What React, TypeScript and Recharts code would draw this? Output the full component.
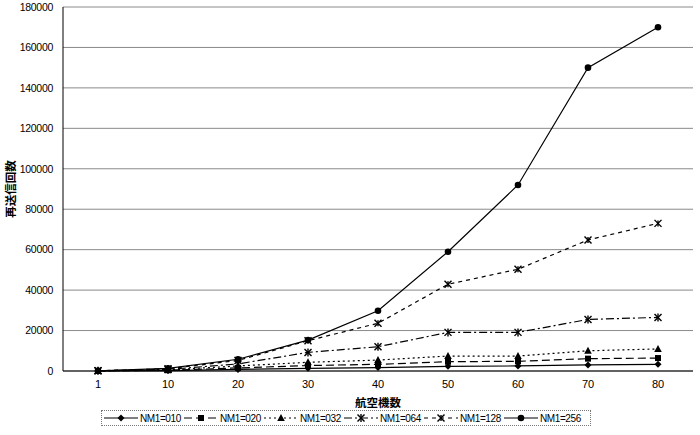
import React from "react";
import { LineChart, Line, XAxis, YAxis, CartesianGrid, Legend } from "recharts";

const categories = ["1", "10", "20", "30", "40", "50", "60", "70", "80"];
const nm010 = [20, 200, 800, 1300, 1700, 2300, 2500, 3000, 3300];
const nm020 = [50, 400, 1500, 2700, 3300, 4600, 4800, 6100, 6400];
const nm032 = [80, 500, 2500, 4300, 5400, 7400, 7400, 10000, 10900];
const nm064 = [100, 800, 3500, 9200, 12000, 19100, 19100, 25500, 26500];
const nm128 = [100, 1100, 5200, 15000, 23600, 42900, 50300, 64800, 73000];
const nm256 = [100, 1300, 5800, 15300, 29800, 59000, 92000, 150000, 170000];
const yTicks = [0, 20000, 40000, 60000, 80000, 100000, 120000, 140000, 160000, 180000];

const data = categories.map((c, i) => ({
  cat: c,
  nm010: nm010[i],
  nm020: nm020[i],
  nm032: nm032[i],
  nm064: nm064[i],
  nm128: nm128[i],
  nm256: nm256[i],
}));

type Shape = "diamond" | "square" | "triangle" | "asterisk" | "x" | "circle";

function Marker({ cx, cy, shape }: { cx: number; cy: number; shape: Shape }) {
  const c = "#000";
  switch (shape) {
    case "diamond":
      return <polygon points={`${cx},${cy - 3.5} ${cx + 3.5},${cy} ${cx},${cy + 3.5} ${cx - 3.5},${cy}`} fill={c} />;
    case "square":
      return <rect x={cx - 3} y={cy - 3} width={6} height={6} fill={c} />;
    case "triangle":
      return <polygon points={`${cx},${cy - 4} ${cx + 3.8},${cy + 3} ${cx - 3.8},${cy + 3}`} fill={c} />;
    case "asterisk":
      return (
        <g stroke={c} strokeWidth={1.4}>
          <line x1={cx - 3.5} y1={cy - 3.5} x2={cx + 3.5} y2={cy + 3.5} />
          <line x1={cx - 3.5} y1={cy + 3.5} x2={cx + 3.5} y2={cy - 3.5} />
          <line x1={cx} y1={cy - 4} x2={cx} y2={cy + 4} />
        </g>
      );
    case "x":
      return (
        <g stroke={c} strokeWidth={1.4}>
          <line x1={cx - 3.5} y1={cy - 3.5} x2={cx + 3.5} y2={cy + 3.5} />
          <line x1={cx - 3.5} y1={cy + 3.5} x2={cx + 3.5} y2={cy - 3.5} />
          <line x1={cx} y1={cy - 3} x2={cx} y2={cy + 3} />
        </g>
      );
    default:
      return <circle cx={cx} cy={cy} r={3.3} fill={c} />;
  }
}

const makeDot = (shape: Shape) => (props: any) => {
  const { cx, cy, index } = props;
  if (cx == null || cy == null) return <g key={`d-${shape}-${index}`} />;
  return (
    <g key={`d-${shape}-${index}`}>
      <Marker cx={cx} cy={cy} shape={shape} />
    </g>
  );
};

const seriesDefs: { key: string; name: string; dash: string; shape: Shape }[] = [
  { key: "nm010", name: "NM1=010", dash: "", shape: "diamond" },
  { key: "nm020", name: "NM1=020", dash: "8 4", shape: "square" },
  { key: "nm032", name: "NM1=032", dash: "2 3", shape: "triangle" },
  { key: "nm064", name: "NM1=064", dash: "8 3 2 3", shape: "asterisk" },
  { key: "nm128", name: "NM1=128", dash: "4 4", shape: "x" },
  { key: "nm256", name: "NM1=256", dash: "", shape: "circle" },
];

const FONT = "'Liberation Sans', Arial, sans-serif";
const CJK = "'Noto Sans CJK JP', sans-serif";

const renderLegend = () => (
  <div style={{ width: 700, height: 18, position: "relative" }}>
    <div
      style={{
        position: "absolute",
        left: 101,
        top: 0,
        width: 490,
        height: 16,
        border: "1px dotted #777",
        display: "flex",
        alignItems: "center",
        fontFamily: FONT,
        fontSize: 10,
        letterSpacing: -0.4,
        color: "#000",
        boxSizing: "border-box",
        paddingLeft: 1,
      }}
    >
      {seriesDefs.map((s) => (
        <div key={s.key} style={{ display: "flex", alignItems: "center", width: 80, whiteSpace: "nowrap" }}>
          <svg width={36} height={12} style={{ display: "block" }}>
            <line x1={1} y1={6} x2={35} y2={6} stroke="#000" strokeWidth={1.2} strokeDasharray={s.dash || undefined} />
            <Marker cx={18} cy={6} shape={s.shape} />
          </svg>
          <span style={{ marginLeft: 1 }}>{s.name}</span>
        </div>
      ))}
    </div>
  </div>
);

const YLabel = (props: any) => {
  const vb = props.viewBox || {};
  const x = 10;
  const y = vb.y + vb.height / 2;
  return (
    <text
      x={x}
      y={y}
      transform={`rotate(-90, ${x}, ${y})`}
      textAnchor="middle"
      dominantBaseline="central"
      fontFamily={CJK}
      fontSize={11.5}
      fontWeight="bold"
      fill="#000"
    >
      再送信回数
    </text>
  );
};

export default function App() {
  return (
    <div style={{ position: "absolute", left: 0, top: 0, width: 700, height: 435, background: "#fff" }}>
      <LineChart width={700} height={435} data={data} margin={{ top: 7, right: 7, left: 11, bottom: 7 }}>
        <CartesianGrid vertical={false} stroke="#8a8a8a" strokeWidth={1} />
        <XAxis
          dataKey="cat"
          padding={{ left: 35, right: 35 }}
          axisLine={{ stroke: "#000" }}
          tickLine={false}
          tickSize={0}
          tickMargin={9}
          height={39}
          tick={{ fontFamily: FONT, fontSize: 11, letterSpacing: -0.2, fill: "#000" }}
          label={{
            value: "航空機数",
            position: "insideBottom",
            offset: 3,
            style: { fontFamily: CJK, fontSize: 11.5, fontWeight: "bold", fill: "#000" },
          }}
        />
        <XAxis xAxisId="top" dataKey="cat" orientation="top" height={0} tick={false} tickLine={false} axisLine={{ stroke: "#777", strokeDasharray: "1 1" }} />
        <YAxis
          domain={[0, 180000]}
          ticks={yTicks}
          interval={0}
          axisLine={{ stroke: "#000" }}
          tickLine={false}
          tickSize={0}
          tickMargin={10}
          width={52}
          tick={{ fontFamily: FONT, fontSize: 10.5, letterSpacing: -0.3, fill: "#000" }}
          label={<YLabel />}
        />
        <YAxis yAxisId="right" orientation="right" width={0} domain={[0, 180000]} tick={false} tickLine={false} axisLine={{ stroke: "#777", strokeDasharray: "1 1" }} />
        <Legend verticalAlign="bottom" height={18} content={renderLegend} wrapperStyle={{ left: 0, width: 700 }} />
        {seriesDefs.map((s) => (
          <Line
            key={s.key}
            type="linear"
            dataKey={s.key}
            name={s.name}
            stroke="#000"
            strokeWidth={1.2}
            strokeDasharray={s.dash || undefined}
            dot={makeDot(s.shape)}
            activeDot={false}
            isAnimationActive={false}
          />
        ))}
      </LineChart>
    </div>
  );
}
